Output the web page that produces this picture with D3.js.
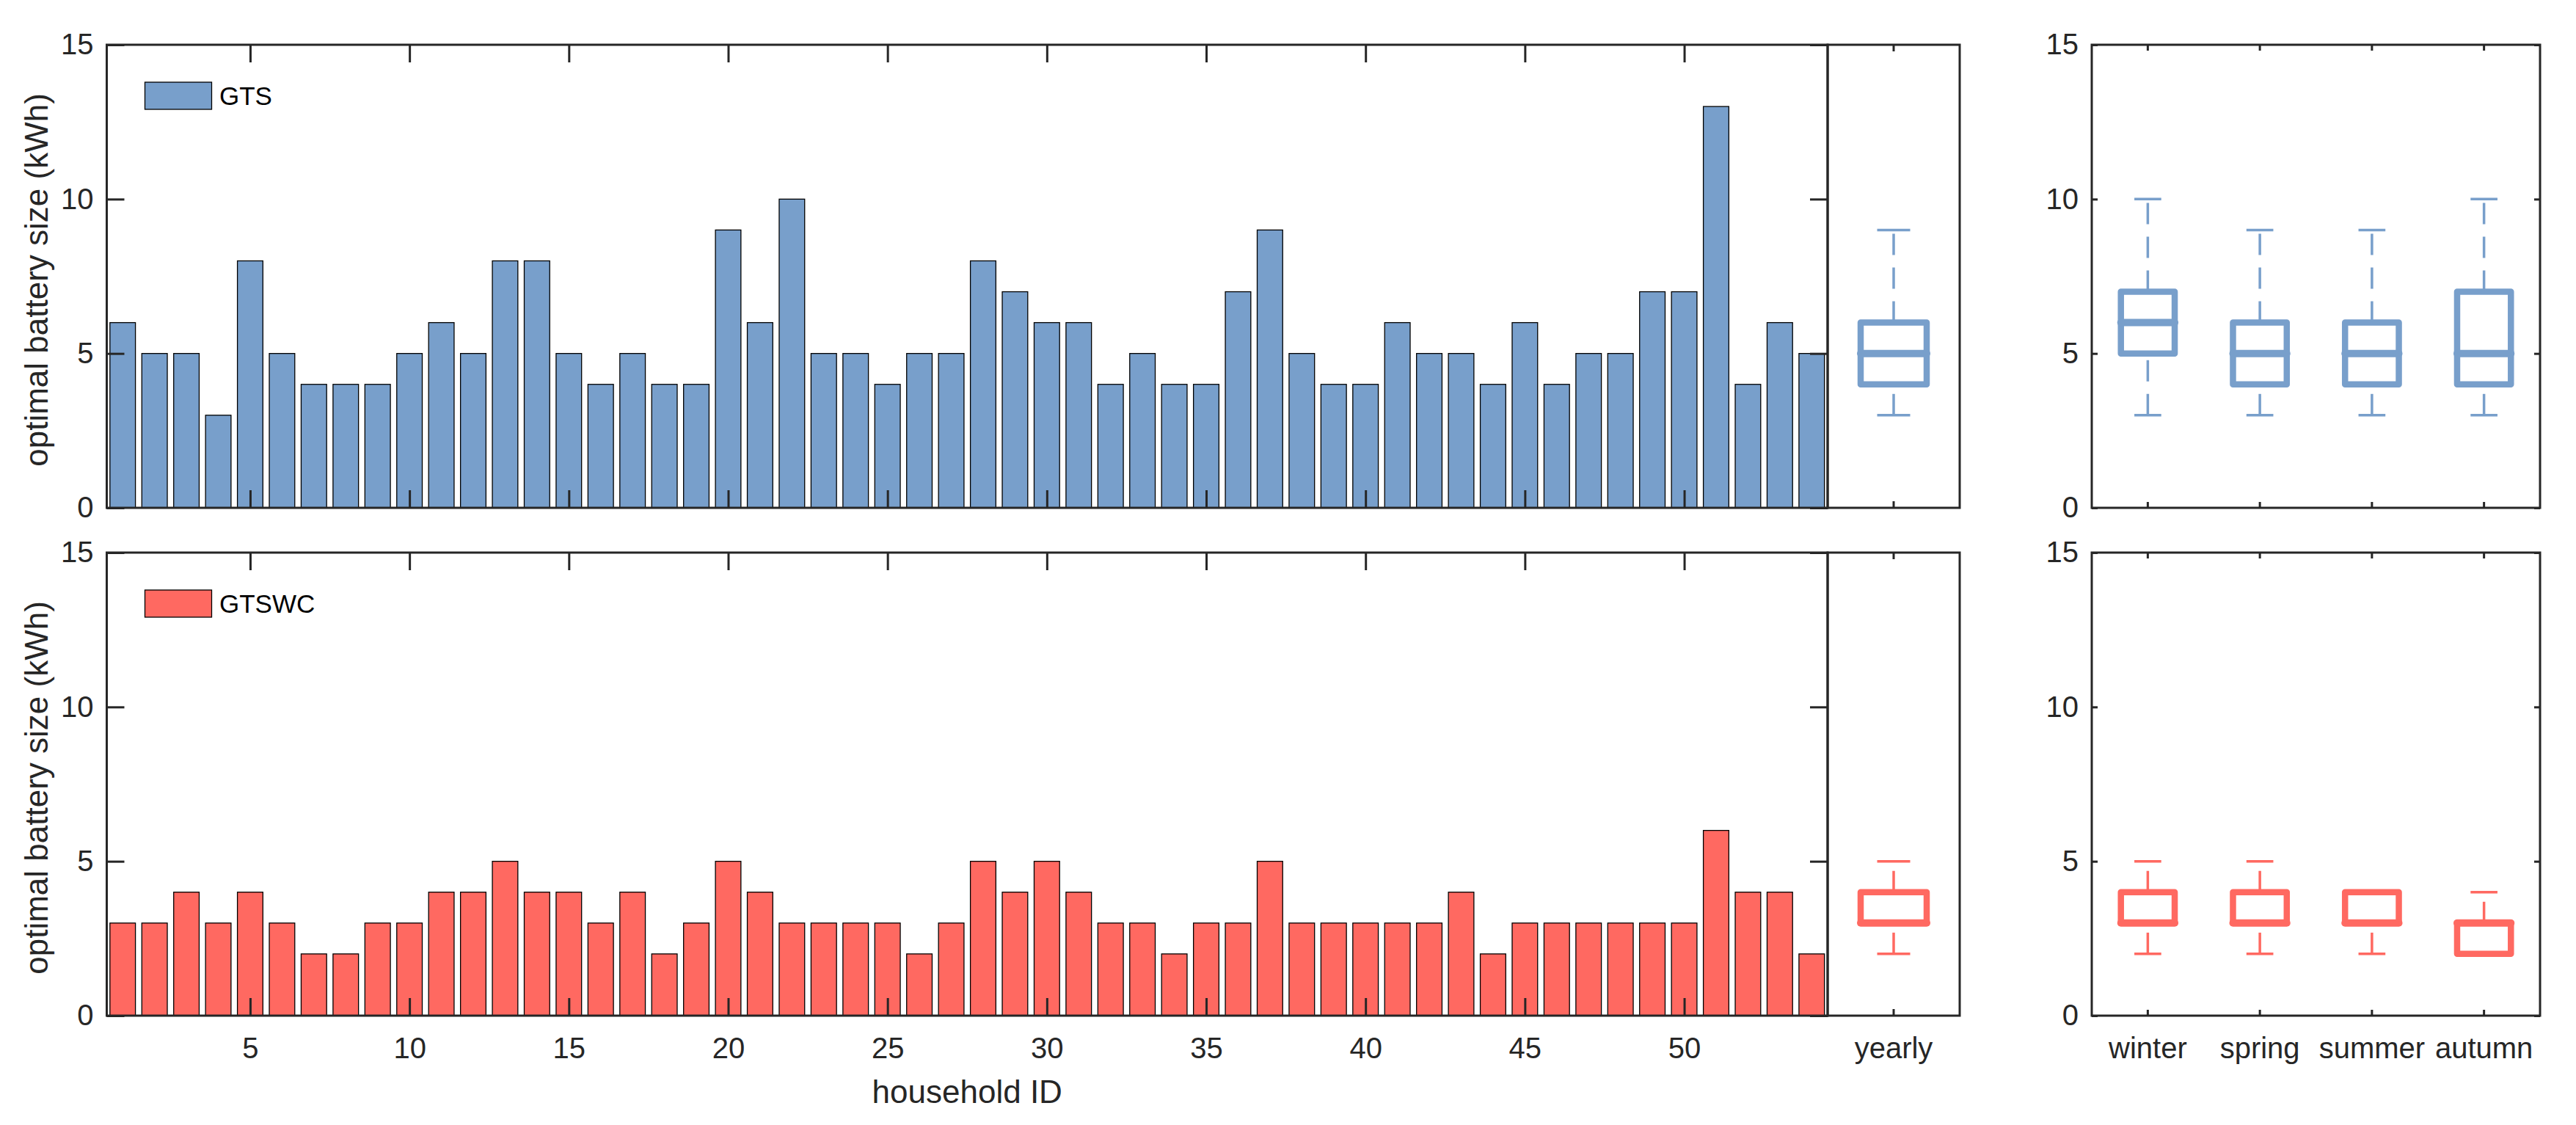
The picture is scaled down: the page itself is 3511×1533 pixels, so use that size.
<!DOCTYPE html>
<html>
<head>
<meta charset="utf-8">
<script src="https://cdn.jsdelivr.net/npm/d3@7"></script>
<style>
  html, body { margin: 0; padding: 0; background: #fff; }
  svg { display: block; }
  text { font-family: "Liberation Sans", Arial, Helvetica, sans-serif; }
</style>
</head>
<body>
<script>
// ---------------- data ----------------
const householdIds = [1,2,3,4,5,6,7,8,9,10,11,12,13,14,15,16,17,18,19,20,21,22,23,24,25,26,27,
  28,29,30,31,32,33,34,35,36,37,38,39,40,41,42,43,44,45,46,47,48,49,50,51,52,53,54];
const gtsValues = [6,5,5,3,8,5,4,4,4,5,6,5,8,8,5,4,5,4,4,9,6,10,5,5,4,5,5,
  8,7,6,6,4,5,4,4,7,9,5,4,4,6,5,5,4,6,4,5,5,7,7,13,4,6,5];
const gtswcValues = [3,3,4,3,4,3,2,2,3,3,4,4,5,4,4,3,4,2,3,5,4,3,3,3,3,2,3,
  5,4,5,4,3,3,2,3,3,5,3,3,3,3,3,4,2,3,3,3,3,3,3,6,4,4,2];
const seriesNames = ["GTS", "GTSWC"];
const xTickValues = [5,10,15,20,25,30,35,40,45,50];
const yTickValues = [0,5,10,15];
const yearlyLabel = ["yearly"];
const seasons = ["winter", "spring", "summer", "autumn"];
// box statistics (min, q1, median, q3, max)
const gtsYearly   = [3, 4, 5, 6, 9];
const gtswcYearly = [2, 3, 3, 4, 5];
const gtsSeasonMin = [3, 3, 3, 3];
const gtsSeasonQ1  = [5, 4, 4, 4];
const gtsSeasonMed = [6, 5, 5, 5];
const gtsSeasonQ3  = [7, 6, 6, 7];
const gtsSeasonMax = [10, 9, 9, 10];
const gtswcSeasonMin = [2, 2, 2, 2];
const gtswcSeasonQ1  = [3, 3, 3, 2];
const gtswcSeasonMed = [3, 3, 3, 3];
const gtswcSeasonQ3  = [4, 4, 4, 3];
const gtswcSeasonMax = [5, 5, 4, 4];

// ---------------- style ----------------
const W = 3511, H = 1533;
const axisColor = "#262626";
const colors = ["#789FCB", "#FF6961"];
const tickFont = 40, labelFont = 44, legendFont = 35;

const svg = d3.select("body").append("svg").attr("width", W).attr("height", H);

const barX0 = 145.5, barX1 = 2491, yearX1 = 2671, seasX0 = 2851, seasX1 = 3462;
const panels = [{ top: 61, bottom: 692 }, { top: 753, bottom: 1384 }];

const xBar = d3.scaleLinear().domain([0.5, 54.5]).range([barX0, barX1]);
const xYear = d3.scaleBand().domain(yearlyLabel).range([barX1, yearX1]);
const xSeason = d3.scaleBand().domain(seasons).range([seasX0, seasX1]);

function styleAxis(g, showText) {
  g.select(".domain").remove();
  g.selectAll(".tick line").attr("stroke", axisColor).attr("stroke-width", 3);
  g.selectAll(".tick text").attr("fill", axisColor).style("font-size", tickFont + "px")
    .style("font-family", '"Liberation Sans", Arial, sans-serif');
  if (!showText) g.selectAll(".tick text").remove();
}

function frame(x0, x1, top, bottom) {
  svg.append("rect").attr("x", x0).attr("y", top).attr("width", x1 - x0).attr("height", bottom - top)
    .attr("fill", "none").attr("stroke", axisColor).attr("stroke-width", 3);
}

function drawBox(g, cx, halfW, capHalf, y, stats, color) {
  const [mn, q1, md, q3, mx] = stats;
  // upper whisker (from q3 to max), lower whisker (from min to q1)
  if (mx > q3) {
    g.append("line").attr("x1", cx).attr("x2", cx).attr("y1", y(q3)).attr("y2", y(mx))
      .attr("stroke", color).attr("stroke-width", 3.5).attr("stroke-dasharray", "29 17");
  }
  g.append("line").attr("x1", cx - capHalf).attr("x2", cx + capHalf).attr("y1", y(mx)).attr("y2", y(mx))
    .attr("stroke", color).attr("stroke-width", 3.5);
  if (mn < q1) {
    g.append("line").attr("x1", cx).attr("x2", cx).attr("y1", y(mn)).attr("y2", y(q1))
      .attr("stroke", color).attr("stroke-width", 3.5).attr("stroke-dasharray", "29 17");
  }
  g.append("line").attr("x1", cx - capHalf).attr("x2", cx + capHalf).attr("y1", y(mn)).attr("y2", y(mn))
    .attr("stroke", color).attr("stroke-width", 3.5);
  g.append("rect").attr("x", cx - halfW).attr("width", 2 * halfW)
    .attr("y", y(q3)).attr("height", y(q1) - y(q3))
    .attr("fill", "none").attr("stroke", color).attr("stroke-width", 8.5).attr("stroke-linejoin", "round");
  g.append("line").attr("x1", cx - halfW).attr("x2", cx + halfW).attr("y1", y(md)).attr("y2", y(md))
    .attr("stroke", color).attr("stroke-width", 10).attr("stroke-linecap", "round");
}

const barSeries = [gtsValues, gtswcValues];
const yearlyStats = [gtsYearly, gtswcYearly];
const seasonStats = [
  [gtsSeasonMin, gtsSeasonQ1, gtsSeasonMed, gtsSeasonQ3, gtsSeasonMax],
  [gtswcSeasonMin, gtswcSeasonQ1, gtswcSeasonMed, gtswcSeasonQ3, gtswcSeasonMax]
];

panels.forEach((p, i) => {
  const y = d3.scaleLinear().domain([0, 15]).range([p.bottom, p.top]);
  const color = colors[i];
  const isBottom = i === 1;

  // ---- bars ----
  const bw = (xBar(1.4) - xBar(0.6));
  svg.append("g").selectAll("rect").data(householdIds).join("rect")
    .attr("x", (d) => xBar(d) - bw / 2)
    .attr("width", bw)
    .attr("y", (d, j) => y(barSeries[i][j]))
    .attr("height", (d, j) => y(0) - y(barSeries[i][j]))
    .attr("fill", color).attr("stroke", "#000").attr("stroke-width", 1.3);

  // ---- bar axes ----
  svg.append("g").attr("transform", `translate(0,${p.bottom})`)
    .call(d3.axisBottom(xBar).tickValues(xTickValues).tickSize(-24).tickPadding(30))
    .call((g) => styleAxis(g, isBottom));
  svg.append("g").attr("transform", `translate(0,${p.top})`)
    .call(d3.axisTop(xBar).tickValues(xTickValues).tickSize(-24))
    .call((g) => styleAxis(g, false));
  svg.append("g").attr("transform", `translate(${barX0},0)`)
    .call(d3.axisLeft(y).tickValues(yTickValues).tickSize(-24).tickPadding(18))
    .call((g) => styleAxis(g, true));
  svg.append("g").attr("transform", `translate(${barX1},0)`)
    .call(d3.axisRight(y).tickValues(yTickValues).tickSize(-24))
    .call((g) => styleAxis(g, false));
  frame(barX0, barX1, p.top, p.bottom);

  // ---- legend ----
  const ly = p.top + 51;
  svg.append("rect").attr("x", 197.5).attr("y", ly).attr("width", 91).attr("height", 37)
    .attr("fill", color).attr("stroke", "#000").attr("stroke-width", 1.3);
  svg.append("text").attr("x", 299).attr("y", ly + 18.5).attr("dy", "0.35em")
    .style("font-size", legendFont + "px").attr("fill", "#000").text(seriesNames[i]);

  // ---- y label ----
  svg.append("text")
    .attr("transform", `translate(65,${(p.top + p.bottom) / 2 + 5}) rotate(-90)`)
    .attr("text-anchor", "middle").style("font-size", labelFont + "px").attr("fill", axisColor)
    .text("optimal battery size (kWh)");

  // ---- yearly box ----
  const gY = svg.append("g");
  const cxY = xYear("yearly") + xYear.bandwidth() / 2;
  drawBox(gY, cxY, xYear.bandwidth() * 0.25, xYear.bandwidth() * 0.125, y, yearlyStats[i], color);
  svg.append("g").attr("transform", `translate(0,${p.bottom})`)
    .call(d3.axisBottom(xYear).tickSize(-9).tickPadding(30))
    .call((g) => styleAxis(g, isBottom));
  svg.append("g").attr("transform", `translate(0,${p.top})`)
    .call(d3.axisTop(xYear).tickSize(-9))
    .call((g) => styleAxis(g, false));
  frame(barX1, yearX1, p.top, p.bottom);

  // ---- seasonal boxes ----
  const gS = svg.append("g");
  seasons.forEach((s, k) => {
    const st = seasonStats[i].map((arr) => arr[k]);
    const cx = xSeason(s) + xSeason.bandwidth() / 2;
    drawBox(gS, cx, xSeason.bandwidth() * 0.24, xSeason.bandwidth() * 0.12, y, st, color);
  });
  svg.append("g").attr("transform", `translate(0,${p.bottom})`)
    .call(d3.axisBottom(xSeason).tickSize(-8).tickPadding(30))
    .call((g) => styleAxis(g, isBottom));
  svg.append("g").attr("transform", `translate(0,${p.top})`)
    .call(d3.axisTop(xSeason).tickSize(-8))
    .call((g) => styleAxis(g, false));
  svg.append("g").attr("transform", `translate(${seasX0},0)`)
    .call(d3.axisLeft(y).tickValues(yTickValues).tickSize(-8).tickPadding(18))
    .call((g) => styleAxis(g, true));
  svg.append("g").attr("transform", `translate(${seasX1},0)`)
    .call(d3.axisRight(y).tickValues(yTickValues).tickSize(-8))
    .call((g) => styleAxis(g, false));
  frame(seasX0, seasX1, p.top, p.bottom);
});

// x label
svg.append("text").attr("x", (barX0 + barX1) / 2).attr("y", 1503)
  .attr("text-anchor", "middle").style("font-size", labelFont + "px").attr("fill", axisColor)
  .text("household ID");
</script>
</body>
</html>
